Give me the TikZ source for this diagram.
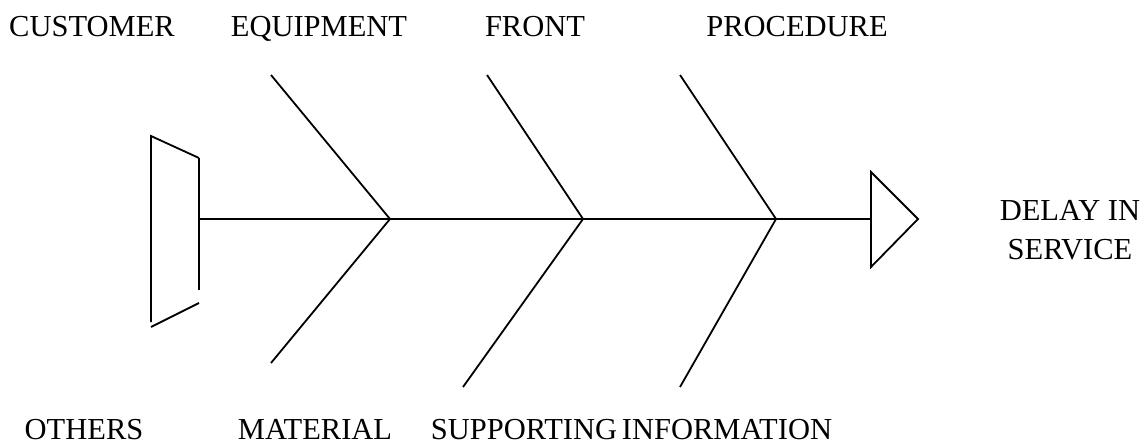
\documentclass[tikz,border=0pt]{standalone}
\usepackage{fontspec}
\setmainfont{Liberation Serif}
\begin{document}
\begin{tikzpicture}[x=1pt,y=-1pt,
  bone/.style={line width=1.8pt,line cap=butt},
  lbl/.style={anchor=base,inner sep=0pt,font=\fontsize{30.5}{39}\selectfont}]
\useasboundingbox (0,0) rectangle (1144,444);
% labels
\node[lbl] (cust) at (92,37) {CUSTOMER};
\node[lbl] (equip) at (319,37) {EQUIPMENT};
\node[lbl] (front) at (535,37) {FRONT};
\node[lbl] (proc) at (797,37) {PROCEDURE};
\node[lbl] (oth) at (84,439) {OTHERS};
\node[lbl] (mat) at (315,439) {MATERIAL};
\node[lbl] (supp) at (524,439) {SUPPORTING};
\node[lbl] (info) at (727,439) {INFORMATION};
\node[lbl,align=center,anchor=base] (delay) at (1070,259) {DELAY IN\\SERVICE};
% tail
\coordinate (t1) at (151,136);
\coordinate (t2) at (199,158);
\coordinate (t3) at (199,290);
\coordinate (t4) at (199,303);
\coordinate (t5) at (151,327);
\coordinate (t6) at (151,322);
\draw[bone] (t2) -- (t1) -- (t6);
\draw[bone] (t2) -- (t3);
\draw[bone] (t4) -- (t5);
% spine
\coordinate (s0) at (199,219);
\coordinate (j1) at (390,219);
\coordinate (j2) at (583,219);
\coordinate (j3) at (776,219);
\coordinate (h0) at (871,219);
\draw[bone] (s0) -- (h0);
% head
\coordinate (h1) at (871,172);
\coordinate (h2) at (918,219);
\coordinate (h3) at (871,267);
\draw[bone,line join=miter] (h1) -- (h2) -- (h3) -- cycle;
% bones
\coordinate (u1) at (271,75);
\coordinate (u2) at (487,75);
\coordinate (u3) at (680,75);
\coordinate (d1) at (271,363);
\coordinate (d2) at (463,387);
\coordinate (d3) at (680,387);
\draw[bone] (u1) -- (j1) -- (d1);
\draw[bone] (u2) -- (j2) -- (d2);
\draw[bone] (u3) -- (j3) -- (d3);
\end{tikzpicture}
\end{document}
